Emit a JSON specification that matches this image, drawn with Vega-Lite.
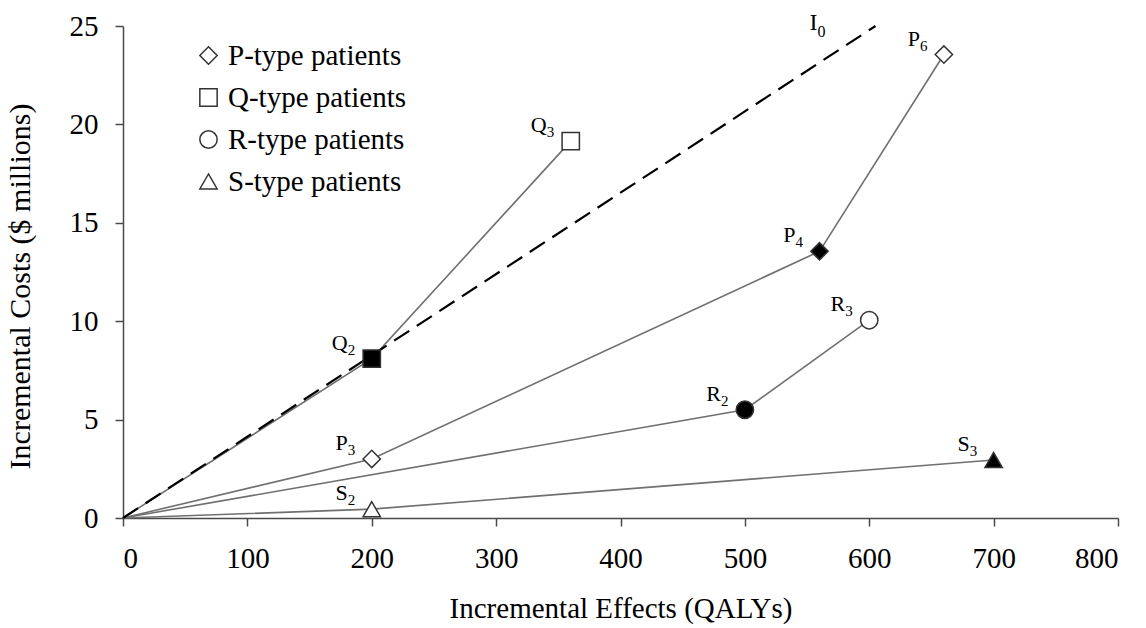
{
  "$schema": "https://vega.github.io/schema/vega-lite/v6.json",
  "width": 995,
  "height": 492,
  "autosize": "none",
  "padding": {"left": 123, "top": 26, "right": 28, "bottom": 110},
  "config": {
    "view": {"stroke": null},
    "font": "Liberation Serif",
    "axis": {"grid": false, "labelFont": "Liberation Serif", "titleFont": "Liberation Serif", "labelFontSize": 29, "titleFontSize": 29, "titleFontWeight": "normal", "labelColor": "black", "titleColor": "black", "domainColor": "#4a4a4a", "tickColor": "#4a4a4a", "domainWidth": 1.5, "tickWidth": 1.5, "tickSize": 8},
    "legend": {"labelFont": "Liberation Serif"}
  },
  "datasets": {
    "pts": [
      {"series": "P-type patients", "letter": "P", "sub": "3", "x": 200, "y": 3.0, "filled": "no"},
      {"series": "P-type patients", "letter": "P", "sub": "4", "x": 560, "y": 13.55, "filled": "yes"},
      {"series": "P-type patients", "letter": "P", "sub": "6", "x": 660, "y": 23.55, "filled": "no"},
      {"series": "Q-type patients", "letter": "Q", "sub": "2", "x": 200, "y": 8.1, "filled": "yes"},
      {"series": "Q-type patients", "letter": "Q", "sub": "3", "x": 360, "y": 19.15, "filled": "no"},
      {"series": "R-type patients", "letter": "R", "sub": "2", "x": 500, "y": 5.5, "filled": "yes"},
      {"series": "R-type patients", "letter": "R", "sub": "3", "x": 600, "y": 10.05, "filled": "no"},
      {"series": "S-type patients", "letter": "S", "sub": "2", "x": 200, "y": 0.45, "filled": "no"},
      {"series": "S-type patients", "letter": "S", "sub": "3", "x": 700, "y": 2.95, "filled": "yes"}
    ],
    "lines": [
      {"series": "P", "ord": 0, "x": 0, "y": 0},
      {"series": "P", "ord": 1, "x": 200, "y": 3.0},
      {"series": "P", "ord": 2, "x": 560, "y": 13.55},
      {"series": "P", "ord": 3, "x": 660, "y": 23.55},
      {"series": "Q", "ord": 0, "x": 0, "y": 0},
      {"series": "Q", "ord": 1, "x": 200, "y": 8.1},
      {"series": "Q", "ord": 2, "x": 360, "y": 19.15},
      {"series": "R", "ord": 0, "x": 0, "y": 0},
      {"series": "R", "ord": 1, "x": 500, "y": 5.5},
      {"series": "R", "ord": 2, "x": 600, "y": 10.05},
      {"series": "S", "ord": 0, "x": 0, "y": 0},
      {"series": "S", "ord": 1, "x": 200, "y": 0.45},
      {"series": "S", "ord": 2, "x": 700, "y": 2.95}
    ],
    "ref": [{"x": 0, "y": 0}, {"x": 605, "y": 25}],
    "reflabel": [{"letter": "I", "sub": "0", "x": 605, "y": 25}]
  },
  "encoding": {
    "x": {"field": "x", "type": "quantitative", "scale": {"domain": [0, 800]},
      "axis": {"title": "Incremental Effects (QALYs)", "values": [0, 100, 200, 300, 400, 500, 600, 700, 800], "labelPadding": 18, "titlePadding": 21}},
    "y": {"field": "y", "type": "quantitative", "scale": {"domain": [0, 25]},
      "axis": {"title": "Incremental Costs ($ millions)", "titleFontSize": 30, "titleY": 260, "values": [0, 5, 10, 15, 20, 25], "labelPadding": 17, "titlePadding": 34}}
  },
  "layer": [
    {
      "data": {"name": "lines"},
      "mark": {"type": "line", "color": "#707070", "strokeWidth": 1.6},
      "encoding": {"detail": {"field": "series"}, "order": {"field": "ord", "type": "quantitative"}}
    },
    {
      "data": {"name": "ref"},
      "mark": {"type": "line", "color": "black", "strokeWidth": 2.2, "strokeDash": [18, 9]},
      "encoding": {}
    },
    {
      "data": {"name": "pts"},
      "mark": {"type": "point", "filled": true, "size": 300, "stroke": "#333", "strokeWidth": 1.5, "opacity": 1},
      "encoding": {
        "shape": {"field": "series", "type": "nominal",
          "scale": {"domain": ["P-type patients", "Q-type patients", "R-type patients", "S-type patients"], "range": ["diamond", "square", "circle", "triangle-up"]},
          "legend": {"orient": "none", "legendX": 71, "legendY": 15, "title": null, "labelFontSize": 29, "labelLimit": 400, "labelColor": "black", "symbolSize": 300, "symbolFillColor": "white", "symbolStrokeColor": "#333", "symbolStrokeWidth": 1.5, "rowPadding": 12, "labelOffset": 5, "padding": 0}},
        "fill": {"field": "filled", "type": "nominal", "scale": {"domain": ["yes", "no"], "range": ["black", "white"]}, "legend": null}
      }
    },
    {
      "data": {"name": "pts"},
      "mark": {"type": "text", "align": "right", "baseline": "alphabetic", "dx": -24, "dy": -9, "fontSize": 22, "color": "black"},
      "encoding": {"text": {"field": "letter"}}
    },
    {
      "data": {"name": "pts"},
      "mark": {"type": "text", "align": "left", "baseline": "alphabetic", "dx": -24, "dy": -4, "fontSize": 15, "color": "black"},
      "encoding": {"text": {"field": "sub"}}
    },
    {
      "data": {"name": "reflabel"},
      "mark": {"type": "text", "align": "right", "baseline": "alphabetic", "dx": -58, "dy": 4, "fontSize": 24, "color": "black"},
      "encoding": {"text": {"field": "letter"}}
    },
    {
      "data": {"name": "reflabel"},
      "mark": {"type": "text", "align": "left", "baseline": "alphabetic", "dx": -58, "dy": 11, "fontSize": 16, "color": "black"},
      "encoding": {"text": {"field": "sub"}}
    }
  ]
}
